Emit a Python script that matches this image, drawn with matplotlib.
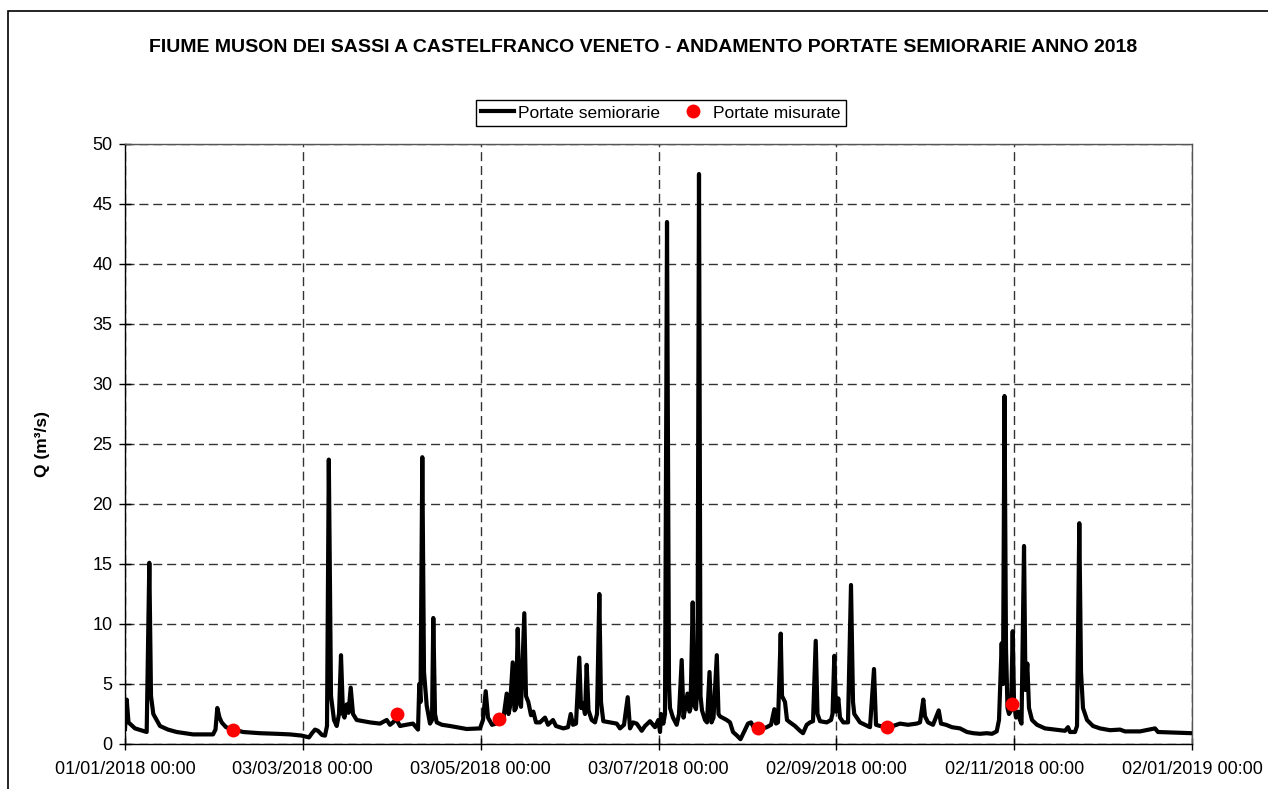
import matplotlib
matplotlib.use("Agg")
import matplotlib.pyplot as plt
from matplotlib.patches import Rectangle
import pandas as pd

plt.rcParams['font.family'] = ['Liberation Sans', 'DejaVu Sans']

# half-hourly discharge: days since 01/01/2018 00:00 and Q (m3/s)
days = [
    0, 0.58, 1.2, 3.43, 7.44, 8.34, 8.92, 9.71, 12.0, 14.75, 17.73, 23.33, 30.19,
    31.04, 31.66, 32.42, 33.17, 34.65, 40.48, 46.31, 52.04, 56.6, 60.61, 63.12,
    64.14, 65.17, 66.2, 67.58, 68.6, 69.29, 69.91, 70.66, 71.69, 72.62, 73.41,
    74.09, 74.78, 75.29, 76.05, 76.67, 77.42, 78.21, 79.48, 84.04, 87.47, 89.77,
    90.9, 91.93, 92.96, 94.33, 96.39, 98.79, 100.51, 100.95, 101.36, 101.98,
    102.56, 103.49, 104.62, 105.31, 105.75, 106.34, 106.92, 108.74, 111.48,
    117.21, 121.77, 122.8, 123.73, 124.52, 125.89, 128.63, 129.66, 130.93,
    131.55, 132.06, 132.99, 133.61, 134.12, 134.71, 135.32, 135.84, 136.97,
    137.55, 138.34, 139.27, 140.06, 140.98, 142.35, 144.07, 145.1, 146.81,
    147.84, 150.35, 151.96, 152.89, 153.67, 154.7, 155.83, 156.42, 157.0,
    157.79, 158.37, 158.99, 160.09, 161.22, 161.91, 162.7, 163.28, 164.07,
    166.37, 168.67, 169.79, 171.17, 172.44, 173.23, 174.25, 175.52, 177.24,
    178.37, 180.09, 181.8, 182.94, 183.52, 183.86, 184.65, 185.23, 185.92,
    186.6, 186.95, 187.97, 189.24, 190.03, 190.96, 191.58, 192.09, 192.95,
    193.64, 193.98, 194.73, 195.35, 195.86, 196.38, 196.89, 197.41, 197.92,
    198.95, 199.64, 200.5, 201.18, 201.87, 203.0, 203.58, 204.1, 206.4, 207.53,
    208.56, 209.93, 211.13, 212.33, 213.7, 214.73, 216.1, 217.24, 218.85,
    220.12, 221.59, 222.73, 223.31, 223.99, 224.92, 225.37, 226.39, 227.08,
    228.11, 229.82, 231.54, 232.57, 233.84, 234.97, 236.0, 236.93, 237.54,
    238.4, 240.7, 242.17, 242.69, 243.31, 243.89, 244.68, 245.26, 246.39,
    248.0, 249.03, 249.72, 250.16, 252.12, 253.83, 255.55, 256.92, 257.61,
    258.98, 261.28, 263.44, 265.84, 268.58, 271.57, 272.7, 273.83, 274.42,
    275.45, 277.16, 279.12, 279.9, 281.62, 283.68, 286.42, 288.82, 290.98,
    293.28, 295.58, 297.4, 299.01, 299.8, 300.72, 301.17, 301.68, 302.2,
    302.71, 303.23, 303.92, 304.5, 304.95, 305.63, 306.32, 307.0, 307.52,
    308.38, 308.89, 309.51, 310.09, 311.12, 312.84, 315.58, 319.01, 322.44,
    323.47, 324.15, 325.87, 326.56, 327.34, 327.93, 328.61, 329.99, 332.04,
    334.45, 337.88, 341.3, 343.02, 348.17, 353.31, 354.34, 360.17, 366.0,
]
portate = [
    1.25, 3.7, 1.8, 1.3, 1.0, 15.1, 4.0, 2.5, 1.5, 1.2, 1.0, 0.8, 0.8,
    1.2, 3.0, 2.2, 1.8, 1.4, 1.0, 0.9, 0.85, 0.8, 0.7, 0.55,
    0.9, 1.2, 1.1, 0.75, 0.7, 1.5, 23.7, 4.0, 2.0, 1.5, 2.5,
    7.4, 2.5, 2.2, 3.3, 2.6, 4.7, 2.5, 2.0, 1.8, 1.7, 2.0,
    1.6, 1.8, 2.1, 1.5, 1.6, 1.7, 1.2, 5.0, 3.5, 23.9,
    6.0, 3.2, 1.7, 2.0, 10.5, 2.5, 1.8, 1.6, 1.5,
    1.25, 1.3, 2.0, 4.4, 2.2, 1.6, 1.8, 1.9, 4.2,
    2.5, 3.1, 6.8, 2.8, 3.0, 9.6, 3.5, 3.1, 10.9,
    4.0, 3.5, 2.4, 2.7, 1.8, 1.8, 2.2, 1.6, 2.0,
    1.5, 1.3, 1.4, 2.5, 1.6, 1.7, 7.2, 3.0, 3.4,
    2.5, 6.6, 2.8, 2.0, 1.8, 2.5, 12.5, 3.5, 1.9,
    1.8, 1.7, 1.3, 1.6, 3.9, 1.3, 1.8, 1.7, 1.1,
    1.5, 1.9, 1.4, 2.0, 1.0, 2.5, 1.7, 2.5, 43.5,
    5.0, 3.0, 2.2, 1.6, 2.5, 7.0, 2.2, 2.9, 4.2,
    2.7, 3.0, 11.8, 3.2, 2.9, 5.0, 47.5, 4.0, 2.8,
    2.0, 1.8, 6.0, 1.8, 2.2, 7.4, 2.5, 2.3, 2.0, 1.8,
    1.0, 0.7, 0.4, 1.0, 1.7, 1.8, 1.2, 1.3, 1.3,
    1.4, 1.6, 2.9, 1.7, 1.8, 9.2, 4.0, 3.5, 2.0,
    1.8, 1.5, 1.1, 0.9, 1.6, 1.8, 1.9, 8.6, 2.5,
    1.9, 1.8, 2.0, 2.5, 7.35, 2.7, 3.8, 2.2, 1.8,
    1.8, 13.25, 3.5, 2.5, 1.8, 1.6, 1.4, 6.25, 1.6,
    1.5, 1.45, 1.5, 1.7, 1.6, 1.7, 1.8, 3.7, 2.3,
    1.8, 1.6, 2.8, 1.7, 1.6, 1.4, 1.3, 1.0, 0.9,
    0.85, 0.9, 0.85, 1.05, 2.0, 8.4, 5.0, 29.0, 8.0,
    3.0, 2.5, 2.8, 9.4, 3.5, 2.2, 2.7, 2.0, 1.7,
    16.5, 4.5, 6.7, 3.0, 2.0, 1.6, 1.3, 1.2, 1.1,
    1.4, 1.0, 1.0, 1.5, 18.4, 6.0, 3.0, 2.0, 1.5,
    1.3, 1.15, 1.2, 1.05, 1.05, 1.3, 1.0, 0.95, 0.9,
]

# spot discharge measurements
mis_days = [37.14, 93.41, 128.29, 217.24, 261.28, 304.37]
mis_q = [1.2, 2.5, 2.1, 1.35, 1.45, 3.35]

tick_labels = ["01/01/2018 00:00", "03/03/2018 00:00", "03/05/2018 00:00",
               "03/07/2018 00:00", "02/09/2018 00:00", "02/11/2018 00:00",
               "02/01/2019 00:00"]

start = pd.Timestamp("2018-01-01 00:00")
tick_pos = [(pd.to_datetime(t, dayfirst=True) - start).days for t in tick_labels]

fig = plt.figure(figsize=(12.68, 7.89), dpi=100)
ax = fig.add_axes([125 / 1268, 45 / 789, 1067 / 1268, 600 / 789])

line, = ax.plot(days, portate, color='black', lw=3.0, solid_joinstyle='round',
                label='Portate semiorarie', zorder=3)
dots, = ax.plot(mis_days, mis_q, 'o', color='#ff0000', ms=10, mec='none',
                label='Portate misurate', zorder=4)

ax.set_xlim(0, 366)
ax.set_ylim(0, 50)
ax.set_xticks(tick_pos)
ax.set_xticklabels(tick_labels)
ax.set_yticks(range(0, 51, 5))
ax.tick_params(axis='both', direction='inout', length=8, width=1, labelsize=13, pad=5)
ax.tick_params(axis='x', pad=8)
ax.grid(True, color='#333333', lw=1, linestyle=(0, (6.5, 3.5)))
for s in ax.spines.values():
    s.set_linewidth(1)
    s.set_color('black')
ax.spines['top'].set_color('#555555')
ax.spines['right'].set_color('#555555')

fig.text(643 / 1268, 1 - 47 / 789, "FIUME MUSON DEI SASSI A CASTELFRANCO VENETO - "
         "ANDAMENTO PORTATE SEMIORARIE ANNO 2018", ha='center', va='center',
         fontsize=14, fontweight='bold')
fig.text(42 / 1268, 1 - 444 / 789, "Q (m³/s)", rotation=90, ha='center', va='center',
         fontsize=12.5, fontweight='bold')

leg = fig.legend(handles=[line, dots], loc='center', ncol=2,
                 bbox_to_anchor=(661 / 1268, 1 - 113 / 789), fontsize=12.5,
                 fancybox=False, edgecolor='black', framealpha=1,
                 handlelength=1.9, handletextpad=0.2, columnspacing=1.0,
                 borderpad=0.3, borderaxespad=0)
leg.get_frame().set_linewidth(1)

fig.add_artist(Rectangle((8 / 1268, -0.1), 1.2, 1.1 - 11 / 789,
                         transform=fig.transFigure, fill=False, ec='black', lw=1.2))

fig.savefig("out.png", dpi=100)
